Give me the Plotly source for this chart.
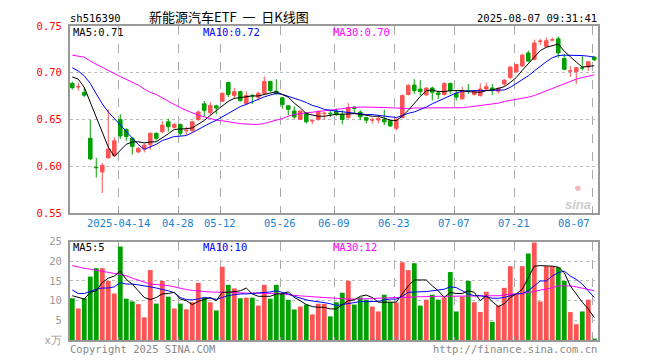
import plotly.graph_objects as go

# ---------------- data ----------------
dates = [
    "2025-04-01", "2025-04-02", "2025-04-03", "2025-04-07", "2025-04-08", "2025-04-09", "2025-04-10", "2025-04-11",
    "2025-04-14", "2025-04-15", "2025-04-16", "2025-04-17", "2025-04-18", "2025-04-21", "2025-04-22", "2025-04-23",
    "2025-04-24", "2025-04-25", "2025-04-28", "2025-04-29", "2025-04-30", "2025-05-06", "2025-05-07", "2025-05-08",
    "2025-05-09", "2025-05-12", "2025-05-13", "2025-05-14", "2025-05-15", "2025-05-16", "2025-05-19", "2025-05-20",
    "2025-05-21", "2025-05-22", "2025-05-23", "2025-05-26", "2025-05-27", "2025-05-28", "2025-05-29", "2025-05-30",
    "2025-06-03", "2025-06-04", "2025-06-05", "2025-06-06", "2025-06-09", "2025-06-10", "2025-06-11", "2025-06-12",
    "2025-06-13", "2025-06-16", "2025-06-17", "2025-06-18", "2025-06-19", "2025-06-20", "2025-06-23", "2025-06-24",
    "2025-06-25", "2025-06-26", "2025-06-27", "2025-06-30", "2025-07-01", "2025-07-02", "2025-07-03", "2025-07-04",
    "2025-07-07", "2025-07-08", "2025-07-09", "2025-07-10", "2025-07-11", "2025-07-14", "2025-07-15", "2025-07-16",
    "2025-07-17", "2025-07-18", "2025-07-21", "2025-07-22", "2025-07-23", "2025-07-24", "2025-07-25", "2025-07-28",
    "2025-07-29", "2025-07-30", "2025-07-31", "2025-08-01", "2025-08-04", "2025-08-05", "2025-08-06", "2025-08-07",
]

opens = [0.6886, 0.6848, 0.6790, 0.6300, 0.5988, 0.5939, 0.6090, 0.6114, 0.6500, 0.6395,
         0.6300, 0.6153, 0.6184, 0.6230, 0.6353, 0.6370, 0.6476, 0.6416, 0.6447, 0.6380,
         0.6380, 0.6500, 0.6668, 0.6574, 0.6647, 0.6696, 0.6896, 0.6756, 0.6798, 0.6668,
         0.6756, 0.6739, 0.6780, 0.6907, 0.6802, 0.6732, 0.6647, 0.6591, 0.6500, 0.6570,
         0.6484, 0.6500, 0.6563, 0.6567, 0.6591, 0.6556, 0.6520, 0.6633, 0.6580, 0.6520,
         0.6493, 0.6495, 0.6500, 0.6486, 0.6405, 0.6520, 0.6767, 0.6868, 0.6826, 0.6763,
         0.6837, 0.6784, 0.6767, 0.6886, 0.6781, 0.6721, 0.6809, 0.6767, 0.6756, 0.6826,
         0.6837, 0.6802, 0.6879, 0.6949, 0.7009, 0.7072, 0.7212, 0.7142, 0.7335, 0.7282,
         0.7349, 0.7363, 0.7153, 0.7017, 0.7012, 0.7054, 0.7061, 0.7167]
highs = [0.6905, 0.6895, 0.6844, 0.6493, 0.6090, 0.6035, 0.6609, 0.6310, 0.6556, 0.6405,
         0.6310, 0.6205, 0.6247, 0.6360, 0.6360, 0.6482, 0.6510, 0.6465, 0.6458, 0.6423,
         0.6486, 0.6598, 0.6696, 0.6686, 0.6658, 0.6791, 0.6904, 0.6837, 0.6809, 0.6802,
         0.6774, 0.6798, 0.6960, 0.6914, 0.6932, 0.6739, 0.6651, 0.6640, 0.6598, 0.6581,
         0.6500, 0.6598, 0.6581, 0.6605, 0.6616, 0.6598, 0.6675, 0.6640, 0.6598, 0.6528,
         0.6520, 0.6546, 0.6605, 0.6493, 0.6520, 0.6767, 0.6879, 0.6932, 0.6921, 0.6844,
         0.6851, 0.6809, 0.6896, 0.6896, 0.6816, 0.6851, 0.6879, 0.6816, 0.6886, 0.6896,
         0.6879, 0.6844, 0.6932, 0.7072, 0.7096, 0.7202, 0.7237, 0.7353, 0.7363, 0.7377,
         0.7377, 0.7388, 0.7202, 0.7072, 0.7061, 0.7177, 0.7125, 0.7177]
lows = [0.6820, 0.6810, 0.6740, 0.6065, 0.5880, 0.5714, 0.6080, 0.6107, 0.6293, 0.6272,
        0.6125, 0.6142, 0.6149, 0.6177, 0.6275, 0.6353, 0.6370, 0.6405, 0.6325, 0.6335,
        0.6370, 0.6486, 0.6528, 0.6546, 0.6556, 0.6686, 0.6739, 0.6721, 0.6693, 0.6661,
        0.6667, 0.6703, 0.6774, 0.6791, 0.6767, 0.6616, 0.6546, 0.6510, 0.6493, 0.6458,
        0.6450, 0.6486, 0.6500, 0.6528, 0.6535, 0.6450, 0.6510, 0.6563, 0.6493, 0.6458,
        0.6458, 0.6458, 0.6440, 0.6423, 0.6380, 0.6515, 0.6756, 0.6774, 0.6756, 0.6756,
        0.6704, 0.6721, 0.6756, 0.6774, 0.6704, 0.6711, 0.6774, 0.6756, 0.6746, 0.6816,
        0.6760, 0.6774, 0.6861, 0.6932, 0.7002, 0.7061, 0.7118, 0.7132, 0.7293, 0.7272,
        0.7340, 0.7160, 0.7026, 0.6956, 0.6879, 0.7026, 0.7019, 0.7125]
closes = [0.6840, 0.6852, 0.6760, 0.6079, 0.5985, 0.6009, 0.6184, 0.6272, 0.6325, 0.6318,
          0.6212, 0.6191, 0.6226, 0.6353, 0.6300, 0.6440, 0.6423, 0.6447, 0.6353, 0.6385,
          0.6476, 0.6580, 0.6598, 0.6651, 0.6623, 0.6780, 0.6767, 0.6798, 0.6702, 0.6756,
          0.6753, 0.6780, 0.6907, 0.6809, 0.6774, 0.6661, 0.6609, 0.6528, 0.6591, 0.6475,
          0.6488, 0.6580, 0.6567, 0.6563, 0.6556, 0.6500, 0.6626, 0.6619, 0.6528, 0.6493,
          0.6497, 0.6510, 0.6475, 0.6430, 0.6500, 0.6756, 0.6865, 0.6809, 0.6798, 0.6837,
          0.6791, 0.6767, 0.6886, 0.6809, 0.6739, 0.6809, 0.6805, 0.6809, 0.6826, 0.6851,
          0.6809, 0.6833, 0.6921, 0.7061, 0.7089, 0.7188, 0.7125, 0.7318, 0.7339, 0.7342,
          0.7353, 0.7212, 0.7037, 0.7020, 0.7054, 0.7050, 0.7118, 0.7139]

ma5 = [0.6955, 0.6932, 0.6844, 0.6684, 0.6510, 0.6345, 0.6205, 0.6105, 0.6165, 0.6235,
       0.6260, 0.6262, 0.6250, 0.6260, 0.6262, 0.6300, 0.6347, 0.6394, 0.6394, 0.6402,
       0.6410, 0.6448, 0.6490, 0.6545, 0.6595, 0.6652, 0.6694, 0.6726, 0.6735, 0.6749,
       0.6752, 0.6752, 0.6770, 0.6788, 0.6798, 0.6767, 0.6739, 0.6675, 0.6625, 0.6563,
       0.6546, 0.6535, 0.6535, 0.6546, 0.6556, 0.6556, 0.6563, 0.6563, 0.6556, 0.6546,
       0.6535, 0.6535, 0.6510, 0.6493, 0.6488, 0.6535, 0.6598, 0.6675, 0.6746, 0.6809,
       0.6816, 0.6798, 0.6798, 0.6809, 0.6809, 0.6809, 0.6798, 0.6791, 0.6791, 0.6809,
       0.6816, 0.6833, 0.6851, 0.6896, 0.6949, 0.7026, 0.7096, 0.7177, 0.7237, 0.7272,
       0.7293, 0.7307, 0.7230, 0.7167, 0.7114, 0.7061, 0.7065, 0.7075]
ma10 = [0.7054, 0.7019, 0.6967, 0.6886, 0.6774, 0.6668, 0.6581, 0.6510, 0.6440, 0.6365,
        0.6300, 0.6232, 0.6180, 0.6206, 0.6235, 0.6274, 0.6298, 0.6318, 0.6322, 0.6329,
        0.6360, 0.6396, 0.6433, 0.6462, 0.6492, 0.6527, 0.6561, 0.6600, 0.6638, 0.6662,
        0.6690, 0.6712, 0.6742, 0.6762, 0.6779, 0.6769, 0.6750, 0.6724, 0.6706, 0.6682,
        0.6651, 0.6633, 0.6609, 0.6598, 0.6591, 0.6581, 0.6570, 0.6563, 0.6556, 0.6553,
        0.6553, 0.6546, 0.6535, 0.6528, 0.6521, 0.6542, 0.6566, 0.6581, 0.6605, 0.6633,
        0.6668, 0.6696, 0.6721, 0.6756, 0.6784, 0.6802, 0.6809, 0.6809, 0.6809, 0.6809,
        0.6809, 0.6809, 0.6816, 0.6844, 0.6886, 0.6932, 0.6967, 0.7019, 0.7072, 0.7118,
        0.7160, 0.7184, 0.7188, 0.7188, 0.7188, 0.7184, 0.7177, 0.7167]
ma30 = [0.7188, 0.7177, 0.7167, 0.7125, 0.7090, 0.7061, 0.7026, 0.6991, 0.6960, 0.6932,
        0.6896, 0.6868, 0.6826, 0.6791, 0.6767, 0.6732, 0.6696, 0.6658, 0.6626, 0.6598,
        0.6570, 0.6546, 0.6528, 0.6510, 0.6493, 0.6486, 0.6475, 0.6465, 0.6456, 0.6451,
        0.6447, 0.6447, 0.6458, 0.6475, 0.6493, 0.6510, 0.6535, 0.6556, 0.6563, 0.6570,
        0.6577, 0.6581, 0.6588, 0.6598, 0.6605, 0.6616, 0.6626, 0.6633, 0.6633, 0.6633,
        0.6633, 0.6633, 0.6633, 0.6626, 0.6623, 0.6618, 0.6616, 0.6623, 0.6623, 0.6623,
        0.6623, 0.6623, 0.6623, 0.6623, 0.6623, 0.6626, 0.6633, 0.6640, 0.6651, 0.6658,
        0.6668, 0.6675, 0.6693, 0.6704, 0.6711, 0.6728, 0.6739, 0.6756, 0.6781, 0.6809,
        0.6833, 0.6854, 0.6879, 0.6904, 0.6932, 0.6949, 0.6967, 0.6977]

volumes = [10.6, 8.0, 10.6, 16.1, 18.25, 18.25, 15.0, 11.8, 23.75, 10.5,
           9.8, 9.1, 5.75, 17.75, 9.25, 15.0, 11.0, 8.0, 9.25, 7.8,
           9.6, 14.5, 10.8, 9.6, 7.5, 18.6, 14.0, 13.1, 10.6, 10.75,
           10.75, 8.75, 14.0, 10.5, 14.0, 11.9, 10.2, 7.75, 8.5, 9.0,
           6.5, 9.2, 9.2, 6.0, 9.6, 12.0, 15.0, 9.0, 10.8, 10.25,
           8.5, 7.25, 11.5, 9.6, 9.5, 19.75, 17.75, 19.5, 8.75, 10.25,
           11.5, 10.25, 10.8, 17.25, 7.25, 11.0, 15.0, 9.6, 7.1, 12.25,
           4.6, 8.75, 13.25, 18.75, 11.7, 18.75, 22.0, 24.75, 9.8, 18.75,
           18.75, 18.5, 15.0, 7.1, 4.0, 7.25, 10.25, 0.25]
vma5 = [11.25, 10.8, 10.4, 12.1, 12.5, 14.6, 15.7, 16.25, 17.5, 15.4,
        14.2, 12.5, 10.8, 10.25, 10.8, 11.7, 11.8, 12.1, 10.4, 10.0,
        9.0, 9.8, 10.4, 10.8, 10.0, 12.1, 12.1, 12.3, 12.5, 13.2,
        11.7, 11.1, 11.1, 11.1, 11.7, 11.7, 12.25, 10.8, 10.0, 9.0,
        8.5, 8.3, 8.3, 7.9, 7.9, 9.0, 10.0, 10.2, 11.1, 11.4,
        10.8, 9.6, 9.6, 9.6, 9.6, 11.7, 13.75, 15.25, 15.25, 15.25,
        13.75, 12.5, 10.8, 12.1, 11.8, 11.8, 12.5, 12.1, 10.0, 11.25,
        9.75, 8.5, 9.2, 10.8, 11.7, 12.9, 15.8, 18.75, 18.9, 18.9,
        18.75, 18.5, 17.1, 13.75, 11.7, 9.6, 7.9, 5.7]
vma10 = [12.7, 11.8, 11.8, 12.3, 12.9, 13.2, 13.2, 13.5, 14.6, 14.2,
         14.2, 14.0, 13.8, 13.5, 13.2, 12.9, 12.5, 12.0, 10.8, 10.25,
         10.2, 10.4, 10.8, 10.6, 10.3, 10.8, 11.3, 11.5, 11.7, 11.7,
         11.8, 12.0, 12.1, 12.2, 12.5, 12.1, 11.7, 11.1, 10.6, 10.2,
         9.9, 9.75, 9.5, 9.2, 8.75, 9.0, 9.3, 9.6, 9.75, 9.75,
         9.8, 9.8, 10.2, 10.4, 10.4, 11.1, 12.1, 12.25, 12.25, 12.3,
         12.5, 12.7, 12.9, 13.5, 13.3, 12.5, 11.7, 11.25, 11.25, 11.0,
         10.6, 10.6, 10.8, 11.25, 11.7, 11.8, 12.5, 13.75, 15.0, 15.0,
         16.25, 17.1, 17.5, 16.25, 15.4, 14.2, 12.5, 10.8]
vma30 = [18.9, 18.5, 18.2, 18.0, 17.7, 17.4, 17.1, 16.9, 16.7, 16.3,
         15.7, 15.2, 14.6, 14.2, 14.1, 14.0, 13.8, 13.5, 13.1, 12.8,
         12.6, 12.4, 12.3, 12.2, 12.1, 12.1, 12.1, 12.0, 12.0, 11.9,
         11.9, 11.9, 11.9, 11.9, 11.9, 11.8, 11.5, 11.3, 11.2, 11.1,
         11.0, 10.9, 10.8, 10.6, 10.5, 10.4, 10.4, 10.4, 10.4, 10.5,
         10.5, 10.6, 10.7, 10.8, 10.8, 10.8, 10.9, 10.9, 11.0, 11.0,
         11.1, 11.1, 11.1, 11.1, 11.1, 11.1, 11.2, 11.2, 11.2, 11.2,
         11.25, 11.25, 11.4, 11.7, 11.7, 11.8, 12.1, 12.3, 12.7, 12.9,
         13.3, 13.75, 13.75, 13.75, 13.5, 13.2, 12.9, 12.5]

date_ticks = ["2025-04-14", "2025-04-28", "2025-05-12", "2025-05-26", "2025-06-09",
              "2025-06-23", "2025-07-07", "2025-07-21", "2025-08-07"]
date_tick_labels = ["2025-04-14", "04-28", "05-12", "05-26", "06-09",
                    "06-23", "07-07", "07-21", "08-07"]
price_ticks = [0.55, 0.60, 0.65, 0.70, 0.75]
vol_ticks = [0, 5, 10, 15, 20, 25]
vol_tick_labels = ["x万", "5", "10", "15", "20", "25"]

# ---------------- style ----------------
PAGE_OFF = 8          # the html page body adds an 8px margin
W, H = 660 - PAGE_OFF, 360 - PAGE_OFF
PL, PR, PT, PB = 70, 598, 21, 340      # plot area in window pixels
RED = "#fb5454"
GREEN = "#00a000"
MONO = "DejaVu Sans Mono"
GRID_OFF = -0.33   # grid lines sit a little left of candle centre

x = list(range(len(dates)))
grid_x = [dates.index(d) + GRID_OFF for d in date_ticks]
vol_colors = [RED if c >= o else GREEN for o, c in zip(opens, closes)]


def px_x(p):
    return (p - PL) / (PR - PL)


def px_y(p):
    return (PB - p) / (PB - PT)


fig = go.Figure()
fig.add_trace(go.Candlestick(
    x=x, open=opens, high=highs, low=lows, close=closes,
    increasing=dict(line=dict(color=RED, width=1), fillcolor=RED),
    decreasing=dict(line=dict(color=GREEN, width=1), fillcolor=GREEN),
    whiskerwidth=0, showlegend=False, hoverinfo="skip", xaxis="x", yaxis="y"))
for vals, col in [(ma30, "#ff00ff"), (ma10, "#0000ff"), (ma5, "#000000")]:
    fig.add_trace(go.Scatter(x=x, y=vals, mode="lines", line=dict(color=col, width=1),
                             showlegend=False, hoverinfo="skip", xaxis="x", yaxis="y"))

fig.add_trace(go.Bar(x=x, y=volumes, marker=dict(color=vol_colors, line=dict(width=0)),
                     width=0.8, showlegend=False, hoverinfo="skip", xaxis="x2", yaxis="y2"))
for vals, col in [(vma30, "#ff00ff"), (vma10, "#0000ff"), (vma5, "#000000")]:
    fig.add_trace(go.Scatter(x=x, y=vals, mode="lines", line=dict(color=col, width=1),
                             showlegend=False, hoverinfo="skip", xaxis="x2", yaxis="y2"))

xcommon = dict(range=[-0.38, 87.62], tickvals=grid_x, showticklabels=False,
               ticks="inside", ticklen=3, tickcolor="#999",
               showgrid=True, gridcolor="#aaaaaa", griddash="dash", gridwidth=1,
               showline=True, mirror=True, linecolor="#999999", linewidth=2,
               zeroline=False, fixedrange=True)
ycommon = dict(showgrid=True, gridcolor="#bbbbbb", griddash="dot", gridwidth=1,
               showline=True, mirror=True, linecolor="#999999", linewidth=2,
               zeroline=False, ticks="", ticklabelstandoff=4)

fig.update_layout(
    width=W, height=H,
    margin=dict(l=PL - PAGE_OFF, r=660 - PR, t=PT - PAGE_OFF, b=360 - PB),
    paper_bgcolor="white", plot_bgcolor="white", boxgap=0.15,
    xaxis=dict(**xcommon, anchor="y", domain=[0, 1], rangeslider=dict(visible=False)),
    xaxis2=dict(**xcommon, anchor="y2", domain=[0, 1], matches="x"),
    yaxis=dict(**ycommon, domain=[px_y(211), 1], range=[0.55, 0.75], tickvals=price_ticks,
               ticktext=[f"{v:.2f}" for v in price_ticks],
               tickfont=dict(family=MONO, size=10.5, color="#ff0000")),
    yaxis2=dict(**ycommon, domain=[0, px_y(240)], range=[0, 25], tickvals=vol_ticks,
                ticktext=vol_tick_labels,
                tickfont=dict(family=MONO, size=10.5, color="#999999")),
)

ann = []


def text(px, py, s, color="#000", size=10.5, anchor="left", family=MONO):
    ann.append(dict(x=px_x(px), y=px_y(py), xref="paper", yref="paper", text=s, showarrow=False,
                    xanchor=anchor, yanchor="middle", borderpad=0,
                    font=dict(family=family, size=size, color=color)))


text(69, 13, "sh516390")
text(229, 11.5, "新能源汽车ETF&nbsp;&nbsp;一&nbsp;&nbsp;日K线图", size=13, anchor="center",
     family="Noto Sans CJK SC")
text(598, 13, "2025-08-07 09:31:41", anchor="right")
text(72, 27.5, "MA5:0.71")
text(202, 27.5, "MA10:0.72", color="#0000ff")
text(332, 27.5, "MA30:0.70", color="#ff00ff")
text(72, 246, "MA5:5")
text(202, 246, "MA10:10", color="#0000ff")
text(332, 246, "MA30:12", color="#ff00ff")
text(69, 349, "Copyright 2025 SINA.COM", color="#888888")
text(598, 349, "http://finance.sina.com.cn", color="#888888", anchor="right")
text(578, 194, "<span style='color:#f4b8b8'>●</span><br><b><i>sina</i></b>", color="#cccccc",
     size=13, anchor="center", family="Liberation Sans")

for i, (d, lab) in enumerate(zip(date_ticks, date_tick_labels)):
    last = i == len(date_ticks) - 1
    ann.append(dict(x=dates.index(d) + GRID_OFF, y=px_y(221), xref="x", yref="paper", text=lab,
                    showarrow=False, xanchor="right" if last else "center", yanchor="middle",
                    xshift=-1 if last else 0, borderpad=0,
                    font=dict(family=MONO, size=10.5, color="#1a80d0")))

fig.update_layout(annotations=ann)
fig.write_html("out.html")
